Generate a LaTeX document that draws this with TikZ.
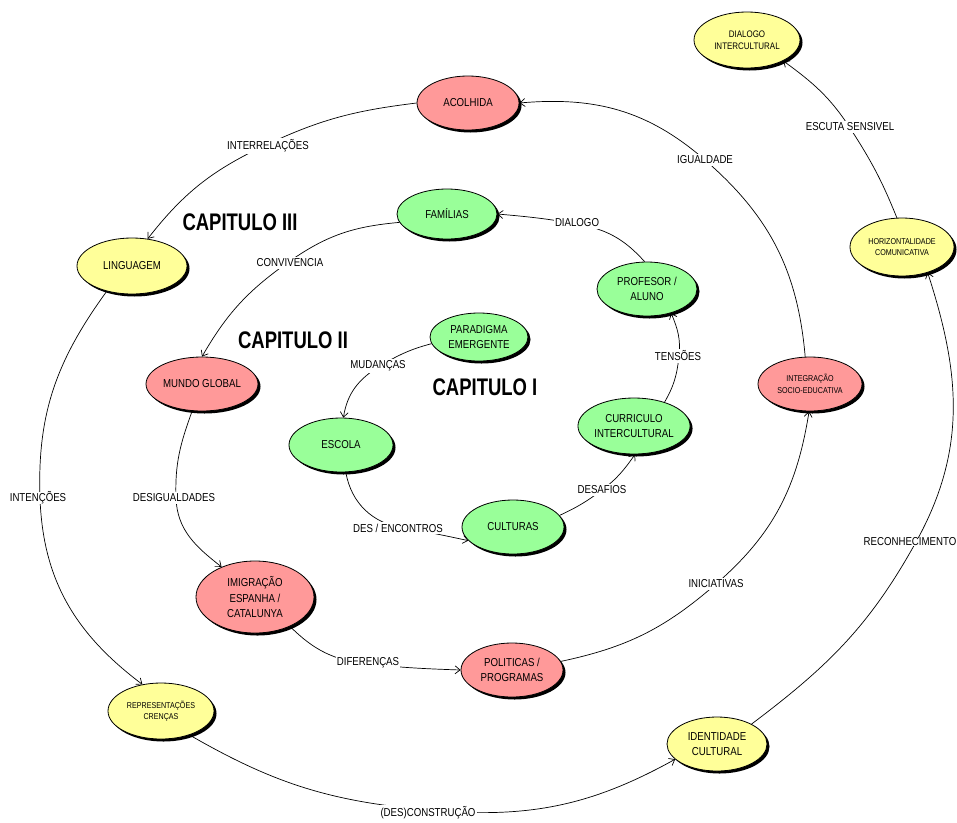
\documentclass[tikz,border=0pt]{standalone}
\usepackage{fontspec}
\setmainfont[FakeStretch=0.84]{Liberation Sans}
\newfontfamily\chapfamily[FakeStretch=0.77]{Liberation Sans}
\usetikzlibrary{shapes.geometric,shadows,arrows.meta}

\definecolor{cyel}{RGB}{255,255,153}
\definecolor{cred}{RGB}{255,153,153}
\definecolor{cgrn}{RGB}{153,255,153}

\newcommand\txtnode{\fontsize{11.5}{15.5}\selectfont}
\newcommand\txtsmall{\fontsize{8.5}{11.5}\selectfont}
\newcommand\txtmid{\fontsize{9.5}{11.7}\selectfont}
\newcommand\txtcap{\chapfamily\bfseries\fontsize{24}{28}\selectfont}

\tikzset{
  bubble/.style={ellipse, draw=black, line width=0.8pt, inner sep=0pt,
    align=center, font=\txtnode,
    drop shadow={shadow xshift=2.5pt, shadow yshift=-2.5pt, opacity=1, fill=black}},
  yel/.style={bubble, fill=cyel},
  red/.style={bubble, fill=cred},
  grn/.style={bubble, fill=cgrn},
  arr/.style={draw=black, line width=0.7pt, -{Straight Barb[length=5pt,width=8pt]}},
  lbl/.style={fill=white, inner xsep=1pt, inner ysep=2pt, font=\txtnode},
  lblbare/.style={fill=white, inner sep=0pt, font=\txtnode},
  chapter/.style={font=\txtcap}
}

\begin{document}
\begin{tikzpicture}[x=1pt,y=1pt]
\fill[white] (0,0) rectangle (957,-822);
\path[use as bounding box] (0,0) rectangle (957,-822);

% concept bubbles
\node[yel, minimum width=106, minimum height=56, font=\txtmid] (dial) at (747,-40) {DIALOGO\\INTERCULTURAL};
\node[red, minimum width=102, minimum height=54] (acol) at (468,-103) {ACOLHIDA};
\node[yel, minimum width=104, minimum height=58, font=\txtsmall] (horiz) at (902,-247) {HORIZONTALIDADE\\COMUNICATIVA};
\node[yel, minimum width=110, minimum height=56] (ling) at (132,-266) {LINGUAGEM};
\node[grn, minimum width=100, minimum height=50] (fam) at (447,-214) {FAMÍLIAS};
\node[grn, minimum width=100, minimum height=54] (prof) at (647,-289) {PROFESOR /\\ALUNO};
\node[grn, minimum width=98, minimum height=48] (para) at (479,-337) {PARADIGMA\\EMERGENTE};
\node[red, minimum width=112, minimum height=54] (mundo) at (202,-384) {MUNDO GLOBAL};
\node[red, minimum width=104, minimum height=54, font=\txtsmall] (integ) at (810,-384) {INTEGRAÇÃO\\SOCIO-EDUCATIVA};
\node[grn, minimum width=110, minimum height=56] (curr) at (634,-426) {CURRICULO\\INTERCULTURAL};
\node[grn, minimum width=104, minimum height=54] (esc) at (341,-445) {ESCOLA};
\node[grn, minimum width=102, minimum height=54] (cult) at (513,-527) {CULTURAS};
\node[red, minimum width=118, minimum height=72] (imig) at (255,-597) {IMIGRAÇÃO\\ESPANHA /\\CATALUNYA};
\node[red, minimum width=102, minimum height=54] (pol) at (512,-670) {POLITICAS /\\PROGRAMAS};
\node[yel, minimum width=106, minimum height=56, font=\txtsmall] (repr) at (161,-711) {REPRESENTAÇÕES\\CRENÇAS};
\node[yel, minimum width=100, minimum height=54] (ident) at (717,-744) {IDENTIDADE\\CULTURAL};

% chapter titles
\node[chapter] (cap3) at (240,-222) {CAPITULO III};
\node[chapter] (cap2) at (293,-340) {CAPITULO II};
\node[chapter] (cap1) at (485,-387) {CAPITULO I};

% points where the connectors pass their labels
\coordinate (pInter) at (268,-144);
\coordinate (pIgual) at (705,-160);
\coordinate (pEscuta) at (850,-128);
\coordinate (pDial) at (577,-224);
\coordinate (pConv) at (290,-261);
\coordinate (pTens) at (679,-356);
\coordinate (pMud) at (380,-366);
\coordinate (pInten) at (40,-498);
\coordinate (pDesig) at (176,-498);
\coordinate (pDesEnc) at (403,-528);
\coordinate (pDesaf) at (602,-490);
\coordinate (pRecon) at (916,-542);
\coordinate (pInic) at (716,-584);
\coordinate (pDifer) at (368,-664);
\coordinate (pDescon) at (428,-810);

% outer spiral
\draw[arr] (acol.west) to[out=187,in=25] (pInter) to[out=205,in=52] (ling.60);
\draw[arr] (ling.225) to[out=234,in=92] (pInten) to[out=272,in=143] (repr.125);
\draw[arr] (repr.-40) to[out=-30,in=175] (pDescon) to[out=-5,in=209] (ident.200);
\draw[arr] (ident.30) to[out=37,in=241] (pRecon) to[out=61,in=288] (horiz.-45);
\draw[arr] (horiz.100) to[out=112,in=303] (pEscuta) to[out=123,in=-36] (dial.-30);

% middle spiral
\draw[arr] (fam.190) to[out=185,in=35] (pConv) to[out=215,in=60] (mundo.north);
\draw[arr] (mundo.250) to[out=250,in=92] (pDesig) to[out=272,in=142] (imig.138);
\draw[arr] (imig.-40) to[out=-45,in=174] (pDifer) to[out=-6,in=178] (pol.west);
\draw[arr] (pol.10) to[out=12,in=221] (pInic) to[out=41,in=261] (integ.268);
\draw[arr] (integ.100) to[out=95,in=319] (pIgual) to[out=139,in=5] (acol.east);

% inner spiral
\draw[arr] (para.188) to[out=195,in=31] (pMud) to[out=211,in=81] (esc.85);
\draw[arr] (esc.280) to[out=280,in=171] (pDesEnc) to[out=-9,in=168] (cult.197);
\draw[arr] (cult.14) to[out=25,in=217] (pDesaf) to[out=37,in=235] (curr.272);
\draw[arr] (curr.38) to[out=60,in=264] (pTens) to[out=84,in=293] (prof.-45);
\draw[arr] (prof.95) to[out=132,in=-10] (pDial) to[out=170,in=-5] (fam.east);

% connector labels
\node[lbl] (lInter) at (268,-146) {INTERRELAÇÕES};
\node[lbl] (lIgual) at (705,-160) {IGUALDADE};
\node[lbl] (lEscuta) at (850,-127) {ESCUTA SENSIVEL};
\node[lbl] (lDial) at (577,-223) {DIALOGO};
\node[lbl] (lConv) at (290,-263) {CONVIVENCIA};
\node[lbl] (lTens) at (678,-356) {TENSÕES};
\node[lbl] (lMud) at (378,-366) {MUDANÇAS};
\node[lblbare] (lInten) at (38,-498) {INTENÇÕES};
\node[lbl] (lDesig) at (174,-498) {DESIGUALDADES};
\node[lbl] (lDesEnc) at (398,-528) {DES / ENCONTROS};
\node[lbl] (lDesaf) at (602,-490) {DESAFIOS};
\node[lblbare] (lRecon) at (910,-542) {RECONHECIMENTO};
\node[lbl] (lInic) at (716,-584) {INICIATIVAS};
\node[lbl] (lDifer) at (368,-663) {DIFERENÇAS};
\node[lbl] (lDescon) at (428,-813) {(DES)CONSTRUÇÃO};
\end{tikzpicture}
\end{document}
